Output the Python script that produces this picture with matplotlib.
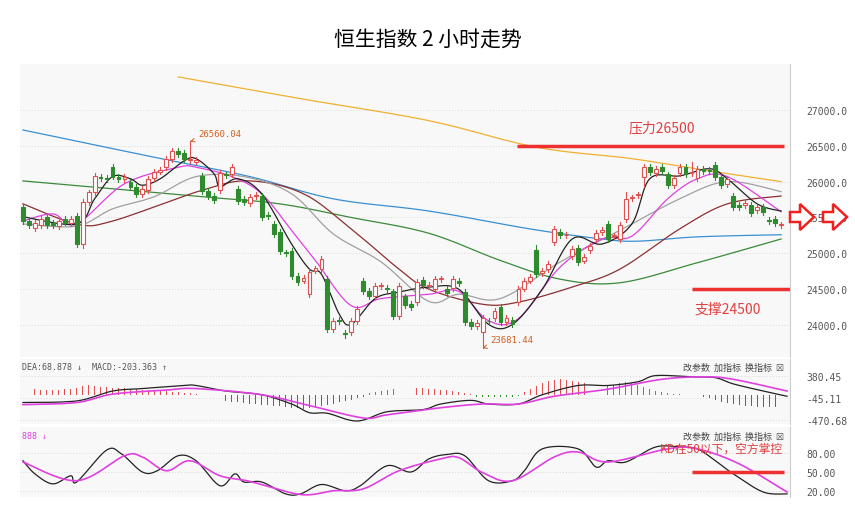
import numpy as np
import matplotlib
matplotlib.use("Agg")
import matplotlib.pyplot as plt
from matplotlib.patches import Rectangle, Polygon

plt.rcParams['font.family'] = ['Noto Sans CJK SC', 'DejaVu Sans']

# ---- 2h candles (open, close) ----
opens = [25650, 25450, 25350, 25400, 25500, 25420, 25380, 25480, 25420, 25520,
         25130, 25720, 25850, 26060, 26050, 26200, 26060, 26030, 26000, 25920,
         25830, 25880, 26050, 26140, 26200, 26320, 26430, 26400, 26300, 26280,
         26080, 25870, 25800, 25880, 26100, 26100, 25900, 25760, 25700, 25800,
         25800, 25540, 25410, 25300, 25010, 25030, 24680, 24620, 24430, 24760,
         24780, 24640, 23950, 24070, 23890, 23900, 24060, 24610, 24480, 24400,
         24540, 24520, 24470, 24130, 24400, 24300, 24320, 24630, 24550, 24500,
         24640, 24500, 24520, 24620, 24460, 24040, 23990, 23900, 24060, 24100,
         24250, 24040, 24070, 24320, 24510, 24620, 25050, 24720, 24780, 25160,
         25300, 25250, 24960, 25070, 24900, 25050, 25200, 25300, 25410, 25240,
         25200, 25480, 25770, 25810, 26060, 26200, 26120, 26200, 26100, 25950,
         26120, 26200, 26120, 26050, 26180, 26160, 26230, 26060, 25960, 25800,
         25680, 25670, 25680, 25600, 25650, 25470, 25480, 25400]
closes = [25450, 25400, 25420, 25480, 25400, 25400, 25450, 25430, 25480, 25130,
          25720, 25850, 26080, 26050, 26040, 26070, 26040, 26060, 25920, 25830,
          25900, 26040, 26130, 26160, 26320, 26430, 26380, 26320, 26310, 26300,
          25870, 25800, 25740, 26120, 26090, 26200, 25730, 25720, 25790, 25810,
          25500, 25520, 25270, 25030, 25000, 24680, 24600, 24660, 24740, 24790,
          24920, 23950, 24060, 24060, 23880, 24060, 24220, 24480, 24400, 24540,
          24550, 24500, 24130, 24550, 24280, 24250, 24600, 24560, 24560, 24640,
          24650, 24450, 24640, 24580, 24040, 23990, 24030, 24100, 24050, 24200,
          24040, 24100, 24020, 24500, 24610, 24670, 24710, 24760, 24850, 25340,
          25250, 25260, 25060, 24880, 24950, 25100, 25290, 25330, 25200, 25250,
          25400, 25760, 25780, 25820, 26200, 26130, 26180, 26150, 25950, 26050,
          26200, 26100, 26130, 26180, 26150, 26150, 26060, 25950, 26040, 25650,
          25650, 25700, 25560, 25640, 25570, 25450, 25420, 25400]
wick_over = {28: (26560, None), 77: (None, 23681), 54: (None, 23820), 10: (None, 25080),
             86: (25120, None), 101: (25850, None), 104: (None, 25920), 112: (26270, None)}

# ---- moving averages, read as (candle index, price) ----
ma250 = [(26, 27460), (47, 27150), (68, 26850), (86, 26480), (102, 26320), (115, 26150), (127, 26000)]
ma120 = [(0, 26720), (22, 26340), (38, 26070), (52, 25760), (68, 25590), (85, 25340), (97, 25200),
         (103, 25170), (113, 25230), (127, 25260)]
ma60 = [(0, 26010), (30, 25790), (43, 25690), (55, 25500), (68, 25280), (80, 24900), (90, 24640),
        (100, 24590), (113, 24870), (127, 25200)]
ma30 = [(0, 25690), (9, 25410), (15, 25450), (30, 25880), (38, 26010), (47, 25830), (55, 25340),
        (63, 24780), (68, 24500), (77, 24290), (83, 24320), (92, 24530), (100, 24780), (110, 25340),
        (118, 25690), (127, 25800)]
ma20 = [(0, 25410), (9, 25380), (15, 25620), (22, 25790), (29, 26070), (37, 26070), (45, 25830),
        (52, 25270), (60, 24880), (68, 24330), (73, 24430), (80, 24370), (90, 24880), (100, 25320),
        (110, 25760), (118, 26000), (127, 25860)]
ma10 = [(0, 25450), (5, 25550), (9, 25410), (17, 25970), (26, 26200), (29, 26200), (35, 26070),
        (40, 25830), (45, 25320), (49, 24900), (55, 24270), (60, 24370), (68, 24430), (73, 24470),
        (78, 24060), (83, 24090), (90, 24810), (97, 25200), (102, 25240), (108, 25760), (113, 26040),
        (118, 26070), (127, 25580)]
ma5 = [(0, 25510), (9, 25410), (12, 25760), (15, 26070), (18, 26040), (20, 25950), (23, 26040),
       (27, 26290), (29, 26320), (32, 26110), (33, 25930), (36, 26040), (40, 25830), (45, 25130),
       (48, 24780), (50, 24710), (53, 24150), (55, 24010), (59, 24370), (63, 24460), (68, 24530),
       (73, 24500), (78, 24010), (82, 24010), (87, 24500), (92, 25200), (97, 25130), (102, 25410),
       (105, 26040), (110, 26080), (115, 26180), (118, 26040), (123, 25690), (127, 25590)]

# ---- MACD ----
dif = [(0, -134), (9, -104), (15, 85), (20, 132), (27, 191), (29, 191), (34, 85), (40, 14),
       (45, -163), (48, -329), (51, -340), (56, -488), (61, -311), (67, -270), (70, -163),
       (75, -93), (78, -163), (83, -163), (87, 14), (93, 191), (98, 191), (103, 262), (106, 380),
       (112, 357), (116, 340), (119, 221), (124, 85), (128, -15)]
dea = [(0, -175), (9, -134), (15, 26), (24, 103), (29, 132), (40, 14), (48, -193), (57, -429),
       (61, -370), (70, -234), (77, -163), (83, -163), (89, -15), (98, 120), (107, 309),
       (114, 357), (119, 309), (128, 85)]
hist = [120, 110, 115, 110, 105, 100, 110, 120, 130, 150,
        180, 200, 190, 170, 160, 150, 140, 140, 130, 120,
        110, 100, 90, 90, 80, 70, 60, 50, 40, 20,
        10, -30, -60, -80, -100, -120, -130, -150, -160, -170,
        -180, -190, -200, -210, -220, -230, -240, -250, -240, -220,
        -200, -180, -160, -130, -100, -80, -50, -20, 40, 60,
        80, 100, 120, 130, 140, 150, 150, 140, 130, 120,
        110, 100, 80, 60, 40, 20, -20, -20, -20, -20,
        -20, -20, -20, -10, 60, 120, 180, 240, 280, 300,
        310, 300, 280, 260, 240, 220, 200, 190, 180, 200,
        240, 260, 240, 200, 160, 120, 80, 60, 40, 30,
        20, 10, 10, 5, -20, -40, -80, -120, -150, -170,
        -190, -200, -210, -220, -220, -220, -223, -220, -210]

# ---- KD ----
kd_k = [(0, 68), (2, 47), (5, 31), (8, 44), (9, 34), (14, 85), (16.5, 79), (20, 50), (22.5, 52),
        (26, 76), (29, 68), (33, 28), (35.5, 47), (37, 34), (40, 34), (44, 15), (46.5, 15), (50, 30),
        (54, 20), (56.5, 28), (61, 60), (65, 50), (68, 71), (71, 78), (74, 76), (78, 36), (82, 36),
        (84, 52), (87, 87), (93, 87), (96, 58), (98, 68), (101, 66), (106, 90), (110, 90), (113, 87),
        (116, 68), (119, 47), (124, 18), (128, 15)]
kd_d = [(0, 66), (9, 36), (17, 76), (20, 74), (24, 52), (28, 68), (33, 44), (38, 35), (46.5, 14),
        (52, 20), (57, 23), (63, 52), (70, 71), (73, 73), (77, 49), (82, 36), (89, 74), (93, 82),
        (98, 66), (108, 87), (113, 87), (120, 63), (128, 18)]

RED = '#e05050'
GREEN = '#2e8b2e'
W, H = 855, 510
L, R = 20, 790


def axes_px(top, bottom):
    return fig.add_axes([L / W, 1 - bottom / H, (R - L) / W, (bottom - top) / H])


def style(ax, ticks, fmt):
    ax.set_facecolor('#f8f8f8')
    ax.set_xlim(-0.5, 128.5)
    ax.set_xticks([])
    ax.yaxis.tick_right()
    ax.set_yticks(ticks)
    ax.set_yticklabels([fmt % t for t in ticks], fontsize=7, color='#555555', family='DejaVu Sans Mono')
    ax.tick_params(axis='y', length=0, pad=12)
    for s in ['top', 'left', 'bottom']:
        ax.spines[s].set_visible(False)
    ax.spines['right'].set_color('#cccccc')
    for t in ticks:
        ax.axhline(t, color='#d8d8d8', lw=0.7, ls=(0, (1, 2)), zorder=0)


def line(ax, pts, color, lw=0.9):
    # Catmull-Rom through the read points so the curve is drawn smoothly
    p = np.array(pts, dtype=float)
    p = np.vstack([p[0], p, p[-1]])
    xs, ys = [], []
    t = np.linspace(0, 1, 12, endpoint=False)
    for k in range(1, len(p) - 2):
        p0, p1, p2, p3 = p[k - 1], p[k], p[k + 1], p[k + 2]
        seg = 0.5 * ((2 * p1) + (-p0 + p2) * t[:, None]
                     + (2 * p0 - 5 * p1 + 4 * p2 - p3) * t[:, None] ** 2
                     + (-p0 + 3 * p1 - 3 * p2 + p3) * t[:, None] ** 3)
        xs.extend(seg[:, 0])
        ys.extend(seg[:, 1])
    xs.append(p[-2, 0])
    ys.append(p[-2, 1])
    ax.plot(xs, ys, color=color, lw=lw)


fig = plt.figure(figsize=(8.55, 5.1), dpi=100)
fig.text(0.5, 1 - 40 / H, '恒生指数 2 小时走势', ha='center', va='center', fontsize=15)

# main panel
ax = axes_px(65, 358)
style(ax, [24000, 24500, 25000, 25500, 26000, 26500, 27000], '%.1f')
ax.set_ylim(23555, 27640)
for i, (o, c) in enumerate(zip(opens, closes)):
    hi, lo = max(o, c) + 40, min(o, c) - 40
    if i in wick_over:
        hi = wick_over[i][0] or hi
        lo = wick_over[i][1] or lo
    col = RED if c >= o else GREEN
    ax.plot([i, i], [lo, hi], color=col, lw=0.8, zorder=3)
    body = max(abs(c - o), 12)
    ax.add_patch(Rectangle((i - 0.32, min(o, c)), 0.64, body, zorder=4,
                           facecolor='white' if c >= o else GREEN, edgecolor=col, lw=0.8))
line(ax, ma250, '#f0b030')
line(ax, ma120, '#3a8fd0')
line(ax, ma60, '#3a8a3a')
line(ax, ma30, '#8b3030')
line(ax, ma20, '#a0a0a0')
line(ax, ma10, '#e040e0')
line(ax, ma5, '#222222')
ax.hlines(26500, 82.8, 127.5, color='#ee3030', lw=2.5, zorder=5)
ax.text(107, 26750, '压力26500', color='#e04040', fontsize=10, ha='center', va='center')
ax.hlines(24500, 112, 128.5, color='#ee3030', lw=2.5, zorder=5)
ax.text(118, 24230, '支撑24500', color='#e04040', fontsize=10, ha='center', va='center')
ax.annotate('26560.04', xy=(28, 26560), xytext=(29.3, 26640), fontsize=6.5, color='#d06020',
            family='DejaVu Sans Mono', arrowprops=dict(arrowstyle='->', color='#d06020', lw=0.7))
ax.annotate('23681.44', xy=(77, 23681), xytext=(78.3, 23760), fontsize=6.5, color='#d06020',
            family='DejaVu Sans Mono', arrowprops=dict(arrowstyle='->', color='#d06020', lw=0.7))

# MACD panel
axm = axes_px(360, 425)
style(axm, [-470.68, -45.11, 380.45], '%.2f')
axm.set_ylim(-545, 697)
axm.bar(range(len(hist)), hist, width=0.15, color=[RED if h > 0 else GREEN for h in hist])
line(axm, dif, '#222222')
line(axm, dea, '#e040e0', 1.2)
fig.text(22 / W, 1 - 368 / H, 'DEA:68.878 ↓  MACD:-203.363 ↑', fontsize=6, color='#555555',
         family='DejaVu Sans Mono', va='center')
fig.text(784 / W, 1 - 368 / H, '改参数  加指标  换指标  ☒', fontsize=6.5, color='#444444',
         ha='right', va='center')

# KD panel
axk = axes_px(428, 498)
style(axk, [20, 50, 80], '%.2f')
axk.set_ylim(10, 122)
line(axk, kd_k, '#222222')
line(axk, kd_d, '#e040e0', 1.2)
axk.hlines(50, 112, 127.5, color='#ee3030', lw=2.5)
axk.text(117, 89, 'KD在50以下，空方掌控', color='#e04040', fontsize=8.5, ha='center', va='center')
fig.text(22 / W, 1 - 437 / H, '888 ↓', fontsize=6, color='#e040e0', family='DejaVu Sans Mono', va='center')
fig.text(784 / W, 1 - 437 / H, '改参数  加指标  换指标  ☒', fontsize=6.5, color='#444444',
         ha='right', va='center')

# hollow red arrows on the right
for x0 in (790, 823):
    pts = [(x0, 213), (x0 + 10, 213), (x0 + 10, 205), (x0 + 24, 218), (x0 + 10, 231),
           (x0 + 10, 223), (x0, 223)]
    fig.patches.append(Polygon([(px / W, 1 - py / H) for px, py in pts], closed=True,
                               transform=fig.transFigure, facecolor='white', edgecolor='#ee2020', lw=1.8))

fig.savefig('out.png', dpi=100)
